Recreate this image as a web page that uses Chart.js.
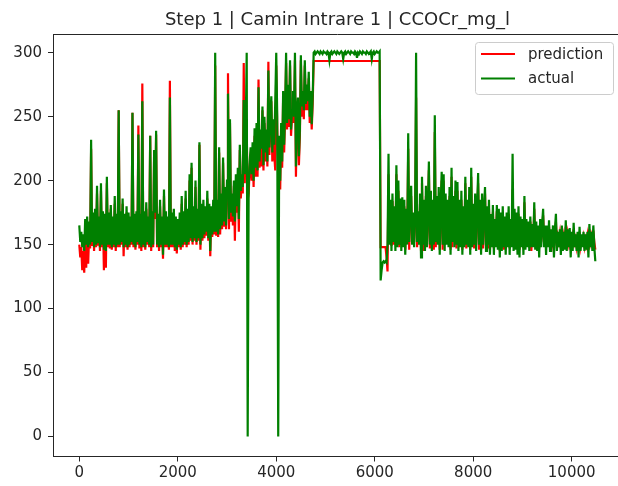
<!DOCTYPE html>
<html>
<head>
<meta charset="utf-8">
<script src="https://cdn.jsdelivr.net/npm/chart.js@4.4.1/dist/chart.umd.min.js"></script>
<style>
  html, body { margin: 0; background: #fff; overflow: hidden; }
  canvas { display: block; }
</style>
</head>
<body>
<canvas id="stepChart" width="640" height="486"></canvas>
<script>
const chartTitle = 'Step 1 | Camin Intrare 1 | CCOCr_mg_l';
const seriesNames = ['prediction', 'actual'];
const xTicks = [0, 2000, 4000, 6000, 8000, 10000];
const yTicks = [0, 50, 100, 150, 200, 250, 300];
const stepSize = 20; // one sample every 20 steps

// actual (green), rows of 10 samples = 200 steps
const actual = [
    165, 152, 160, 148, 158, 145, 170, 150, 172, 148,
    168, 150, 232, 152, 175, 148, 178, 150, 196, 152,
    172, 148, 198, 150, 176, 146, 174, 145, 203, 150,
    175, 150, 181, 148, 172, 150, 188, 148, 174, 150,
    255, 150, 176, 152, 186, 148, 174, 150, 180, 148,
    175, 150, 172, 152, 253, 150, 174, 148, 176, 152,
    236, 150, 174, 148, 262, 150, 176, 148, 183, 152,
    172, 150, 235, 148, 176, 150, 224, 175, 239, 150,
    174, 148, 185, 150, 172, 142, 193, 150, 176, 150,
    172, 148, 265, 150, 175, 150, 178, 148, 172, 146,
    // 2000
    170, 150, 175, 148, 188, 150, 176, 152, 192, 150,
    178, 152, 205, 155, 214, 152, 180, 155, 200, 152,
    178, 155, 230, 150, 182, 155, 185, 158, 180, 160,
    192, 155, 182, 145, 180, 158, 185, 160, 300, 160,
    185, 158, 226, 162, 190, 165, 218, 168, 195, 165,
    200, 268, 170, 248, 175, 190, 172, 200, 168, 205,
    180, 210, 170, 228, 192, 205, 195, 263, 205, 240,
    300, 0, 195, 215, 226, 205, 230, 200, 241, 210,
    245, 208, 273, 215, 240, 225, 258, 212, 250, 222,
    240, 215, 286, 226, 250, 266, 222, 248, 228, 262,
    // 4000
    300, 250, 0, 235, 200, 245, 215, 270, 228, 255,
    300, 245, 275, 248, 294, 240, 255, 270, 250, 300,
    211, 255, 265, 219, 240, 298, 258, 270, 255, 294,
    260, 275, 262, 285, 250, 270, 244, 265,
    // 4760 plateau
    300, 301, 299, 300, 301, 300, 299, 301, 300, 299,
    301, 300, 300, 299, 301, 300, 294, 300, 301, 299,
    300, 301, 300, 299, 301, 300, 299, 300, 301, 300,
    295, 300, 301, 299, 300, 301, 300, 299, 301, 300,
    300, 299, 301, 300, 296, 300, 299, 301, 300, 299,
    301, 300, 300, 299, 301, 300, 299, 300, 301, 295,
    300, 301, 299, 300, 301, 300, 300, 301,
    // 6120
    122, 130, 136, 137, 136, 137, 136, 150,
    // 6280
    221, 150, 185, 145, 190, 152, 180, 145, 212, 148,
    200, 150, 186, 145, 187, 148, 185, 142, 178, 150,
    237, 152, 178, 196, 150, 175, 148, 172, 300, 152,
    176, 150, 190, 140, 203, 150, 185, 145, 196, 148,
    180, 215, 150, 192, 145, 185, 150, 251, 152, 188,
    150, 195, 142, 182, 207, 150, 205, 145, 190, 150,
    185, 148, 195, 142, 210, 152, 188, 148, 200, 150,
    199, 145, 185, 148, 192, 142, 180, 148, 203, 150,
    185, 148, 195, 142, 210, 148, 182, 150, 190, 145,
    180, 206, 150, 185, 142, 190, 150, 178, 195, 145,
    180, 150, 185, 142, 174, 148, 181, 142, 170, 148,
    181, 146, 178, 140, 175, 145, 180, 148, 172, 142,
    175, 148, 180, 142, 170, 148, 221, 145, 178, 146,
    175, 142, 180, 140, 172, 148, 170, 142, 188, 146,
    170, 148, 168, 145, 172, 148, 166, 148, 183, 146,
    168, 145, 165, 140, 170, 148, 166, 178, 148, 165,
    142, 165, 148, 169, 145, 162, 148, 165, 140, 162,
    174, 145, 160, 148, 162, 142, 165, 145, 160, 146,
    169, 145, 162, 148, 163, 140, 160, 145, 167, 148,
    158, 145, 160, 140, 164, 145, 158, 148, 160, 145,
    158, 146, 160, 140, 166, 148, 160, 145, 165, 148,
    137
];

// prediction (red)
const prediction = [
    150, 140, 148, 130, 145, 128, 155, 132, 160, 135,
    158, 147, 225, 149, 168, 145, 170, 148, 190, 150,
    165, 145, 192, 148, 170, 130, 168, 132, 198, 148,
    170, 147, 178, 146, 168, 148, 182, 145, 170, 148,
    255, 148, 172, 150, 182, 141, 170, 148, 175, 146,
    170, 148, 168, 150, 253, 148, 170, 146, 172, 150,
    243, 147, 170, 145, 276, 148, 172, 146, 178, 150,
    168, 148, 235, 145, 172, 148, 220, 170, 236, 148,
    170, 145, 180, 148, 168, 139, 188, 148, 172, 148,
    168, 146, 278, 148, 170, 148, 174, 145, 168, 143,
    // 2000
    165, 148, 170, 146, 182, 148, 172, 150, 186, 148,
    172, 150, 200, 153, 210, 150, 175, 153, 195, 150,
    172, 153, 228, 146, 178, 153, 180, 155, 175, 157,
    186, 153, 178, 141, 175, 156, 180, 158, 290, 157,
    180, 156, 222, 158, 185, 162, 214, 164, 190, 162,
    195, 284, 162, 245, 168, 185, 165, 196, 153, 200,
    175, 205, 160, 224, 186, 200, 190, 292, 198, 230,
    240, 185, 190, 210, 220, 200, 225, 195, 235, 203,
    240, 203, 279, 210, 235, 211, 255, 208, 245, 215,
    235, 211, 293, 220, 245, 262, 215, 244, 220, 208,
    // 4000
    290, 240, 215, 225, 193, 240, 210, 265, 222, 250,
    292, 240, 270, 242, 290, 235, 250, 265, 245, 294,
    203, 250, 258, 212, 235, 294, 250, 265, 248, 290,
    255, 270, 255, 280, 245, 265, 240, 260,
    // 4760 plateau
    293.5, 293.5, 293.5, 293.5, 293.5, 293.5, 293.5, 293.5, 293.5, 293.5,
    293.5, 293.5, 293.5, 293.5, 293.5, 293.5, 293.5, 293.5, 293.5, 293.5,
    293.5, 293.5, 293.5, 293.5, 293.5, 293.5, 293.5, 293.5, 293.5, 293.5,
    293.5, 293.5, 293.5, 293.5, 293.5, 293.5, 293.5, 293.5, 293.5, 293.5,
    293.5, 293.5, 293.5, 293.5, 293.5, 293.5, 293.5, 293.5, 293.5, 293.5,
    293.5, 293.5, 293.5, 293.5, 293.5, 293.5, 293.5, 293.5, 293.5, 293.5,
    293.5, 293.5, 293.5, 293.5, 293.5, 293.5, 293.5, 293.5,
    // 6120
    148, 148, 148, 148, 148, 148, 140, 129,
    // 6280
    205, 154, 176, 149, 184, 150, 172, 150, 205, 150,
    192, 148, 178, 150, 182, 150, 180, 146, 170, 154,
    225, 146, 174, 188, 155, 170, 152, 168, 265, 148,
    172, 154, 182, 146, 198, 145, 178, 148, 188, 152,
    172, 208, 147, 184, 150, 178, 146, 238, 148, 180,
    155, 188, 146, 176, 200, 146, 200, 150, 182, 152,
    178, 152, 188, 146, 203, 148, 180, 152, 192, 147,
    192, 150, 178, 150, 185, 146, 174, 152, 198, 147,
    178, 152, 188, 146, 203, 152, 176, 147, 183, 150,
    174, 198, 146, 178, 146, 183, 147, 172, 190, 150,
    174, 147, 178, 146, 168, 152, 175, 147, 166, 152,
    176, 150, 172, 145, 170, 148, 174, 146, 168, 147,
    170, 152, 174, 147, 166, 152, 193, 150, 172, 150,
    170, 147, 174, 146, 168, 152, 165, 147, 183, 150,
    166, 152, 164, 148, 168, 145, 162, 152, 178, 150,
    164, 148, 162, 147, 166, 152, 162, 173, 152, 161,
    148, 161, 152, 164, 149, 158, 152, 161, 147, 158,
    168, 149, 156, 152, 158, 148, 161, 149, 156, 150,
    164, 150, 158, 152, 159, 146, 156, 149, 162, 152,
    155, 149, 156, 146, 160, 149, 154, 152, 156, 149,
    154, 150, 156, 146, 162, 152, 156, 149, 161, 152,
    146
];

const steps = actual.map((_, i) => i * stepSize);
const toPoints = (vals) => vals.map((v, i) => ({ x: steps[i], y: v }));

const colors = { prediction: '#ff0000', actual: '#008000' };
const axisColor = '#262626';
const fontFamily = "'DejaVu Sans', sans-serif";

// titolo, bordo superiore e legenda disegnati a mano (stile matplotlib)
const decorPlugin = {
    id: 'decor',
    afterDraw(chart) {
        const ctx = chart.ctx;
        const a = chart.chartArea;
        ctx.save();
        ctx.strokeStyle = axisColor;
        ctx.lineWidth = 1;
        ctx.beginPath();
        ctx.moveTo(a.left, a.top + 0.5);
        ctx.lineTo(a.right, a.top + 0.5);
        ctx.stroke();

        ctx.fillStyle = '#262626';
        ctx.font = '18px ' + fontFamily;
        ctx.textAlign = 'center';
        ctx.textBaseline = 'alphabetic';
        ctx.fillText(chartTitle, (a.left + a.right) / 2, 25);

        // legenda
        const bx = 475.5, by = 42.5, bw = 138, bh = 52;
        ctx.fillStyle = 'rgba(255,255,255,0.8)';
        ctx.strokeStyle = '#cccccc';
        ctx.beginPath();
        ctx.roundRect(bx, by, bw, bh, 3);
        ctx.fill();
        ctx.stroke();
        ctx.font = '15px ' + fontFamily;
        ctx.textAlign = 'left';
        ctx.textBaseline = 'middle';
        seriesNames.forEach((name, i) => {
            const y = 54 + i * 24.5;
            ctx.strokeStyle = colors[name];
            ctx.lineWidth = 2;
            ctx.beginPath();
            ctx.moveTo(481, y);
            ctx.lineTo(515, y);
            ctx.stroke();
            ctx.fillStyle = '#262626';
            ctx.fillText(name, 528, y + 1);
        });
        ctx.restore();
    }
};

new Chart(document.getElementById('stepChart'), {
    type: 'line',
    data: {
        datasets: [
            {
                label: 'prediction',
                data: toPoints(prediction),
                borderColor: colors.prediction,
                borderWidth: 2.2,
                pointRadius: 0,
                order: 2
            },
            {
                label: 'actual',
                data: toPoints(actual),
                borderColor: colors.actual,
                borderWidth: 2.2,
                pointRadius: 0,
                order: 1
            }
        ]
    },
    options: {
        responsive: false,
        animation: false,
        layout: { padding: { top: 34, left: 0, right: 18, bottom: 0 } },
        plugins: {
            legend: { display: false },
            title: { display: false },
            tooltip: { enabled: false }
        },
        scales: {
            x: {
                type: 'linear',
                min: -534,
                max: 11022,
                afterBuildTicks: (axis) => { axis.ticks = xTicks.map(v => ({ value: v })); },
                afterFit: (axis) => { axis.height = 29.5; },
                grid: { drawOnChartArea: false, drawTicks: true, tickLength: 5, color: axisColor },
                border: { display: true, color: axisColor, width: 1 },
                ticks: {
                    color: '#262626',
                    padding: 3,
                    maxRotation: 0,
                    font: { family: fontFamily, size: 15 },
                    callback: (v) => String(v)
                }
            },
            y: {
                type: 'linear',
                min: -15.6,
                max: 314.6,
                afterBuildTicks: (axis) => { axis.ticks = yTicks.map(v => ({ value: v })); },
                afterFit: (axis) => { axis.width = 53; },
                grid: { drawOnChartArea: false, drawTicks: true, tickLength: 5, color: axisColor },
                border: { display: true, color: axisColor, width: 1 },
                ticks: {
                    color: '#262626',
                    padding: 6,
                    font: { family: fontFamily, size: 15 },
                    callback: (v) => String(v)
                }
            }
        }
    },
    plugins: [decorPlugin]
});
</script>
</body>
</html>
